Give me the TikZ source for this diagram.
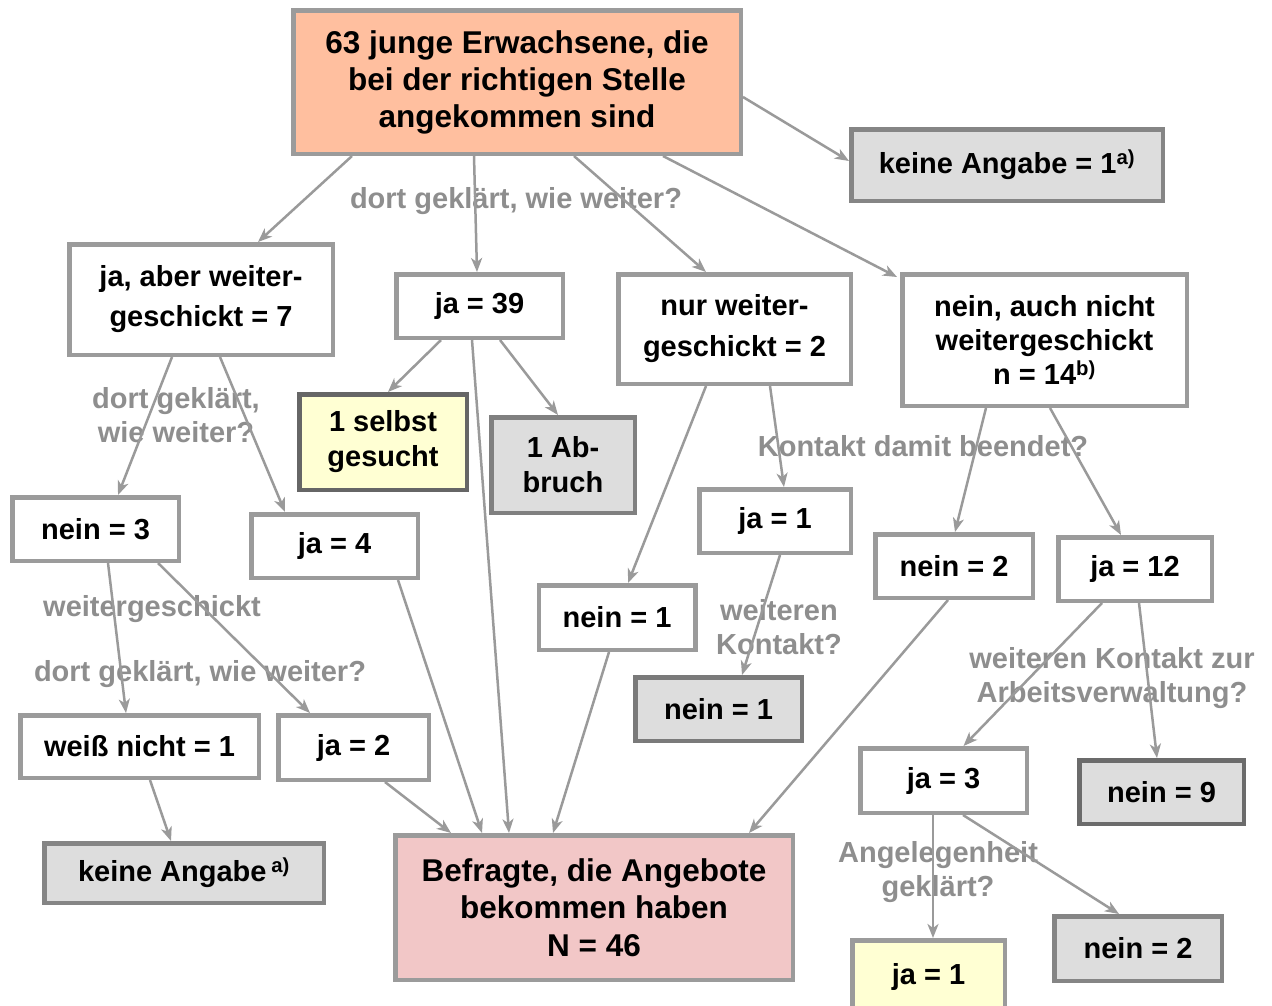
\documentclass[tikz,border=0pt]{standalone}
\usepackage{fontspec}
\setmainfont{Liberation Sans}
\usetikzlibrary{arrows.meta,calc}
\definecolor{linegray}{HTML}{9A9A9A}
\definecolor{bordgray}{HTML}{9B9B9B}
\definecolor{darkbord}{HTML}{858585}
\definecolor{labgray}{HTML}{8E8E8E}
\definecolor{orangefill}{HTML}{FFBF9F}
\definecolor{pinkfill}{HTML}{F2C7C7}
\definecolor{yellowfill}{HTML}{FFFFD3}
\definecolor{grayfill}{HTML}{DDDDDD}
\tikzset{
  box/.style={draw=bordgray, line width=4.5pt, inner sep=0pt, align=center, fill=white,
    font=\bfseries\fontsize{29}{35}\selectfont},
  graybox/.style={box, fill=grayfill, draw=darkbord},
  lab/.style={text=labgray, align=center, inner sep=0pt, font=\bfseries\fontsize{29}{34}\selectfont},
  conn/.style={draw=linegray, line width=2.5pt, -{Stealth[length=14pt,width=11pt,inset=4pt]}},
  bw/.style 2 args={minimum width=#1pt, minimum height=#2pt}
}
\begin{document}
\begin{tikzpicture}[x=1pt,y=-1pt]
\useasboundingbox[fill=white] (0,0) rectangle (1272,1005);
% labels
\node[lab] (l1) at (516,201) {dort geklärt, wie weiter?};
\node[lab] (l2) at (176,415) {dort geklärt,\\wie weiter?};
\node[lab] (l3) at (923,446) {Kontakt damit beendet?};
\node[lab] (l4) at (152,609) {weitergeschickt};
\node[lab] (l5) at (200,674) {dort geklärt, wie weiter?};
\node[lab] (l6) at (779,627) {weiteren\\Kontakt?};
\node[lab] (l7) at (1112,678) {weiteren Kontakt zur\\Arbeitsverwaltung?};
\node[lab] (l8) at (938,872) {Angelegenheit\\geklärt?};
% boxes
\node[box, fill=orangefill, bw={447.5}{143.5}, font=\bfseries\fontsize{31.5}{37}\selectfont] (top) at (517,82) {63 junge Erwachsene, die\\bei der richtigen Stelle\\angekommen sind};
\node[graybox, bw={311.5}{71.5}] (keineA1) at (1007,165) {keine Angabe = 1\textsuperscript{a)}};
\node[box, bw={263.5}{110.5}, font=\bfseries\fontsize{29}{40}\selectfont] (jaaber) at (201,299.5) {ja, aber weiter-\\geschickt = 7};
\node[box, bw={166.5}{63.5}] (ja39) at (479.5,306) {ja = 39};
\node[box, bw={232.5}{109.5}, font=\bfseries\fontsize{29}{41}\selectfont] (nur) at (734.5,329) {nur weiter-\\geschickt = 2};
\node[box, bw={284.5}{131.5}, font=\bfseries\fontsize{29}{34}\selectfont] (nein14) at (1044.5,340) {nein, auch nicht\\weitergeschickt\\n = 14\textsuperscript{b)}};
\node[box, fill=yellowfill, draw=black!60, bw={167.5}{95.5}] (selbst) at (383,442) {1 selbst\\gesucht};
\node[graybox, draw=black!50, bw={143.5}{95.5}] (Abbruch) at (563,465) {1 Ab-\\bruch};
\node[box, bw={166.5}{63.5}] (nein3) at (95.5,529) {nein = 3};
\node[box, bw={166.5}{63.5}] (ja4) at (334.5,546) {ja = 4};
\node[box, bw={151.5}{63.5}] (ja1) at (775,521) {ja = 1};
\node[box, bw={157.5}{63.5}] (nein2) at (954,566) {nein = 2};
\node[box, bw={153.5}{63.5}] (ja12) at (1135,569) {ja = 12};
\node[box, bw={156.5}{64.5}] (neinmid1) at (617,617.5) {nein = 1};
\node[graybox, draw=black!52, bw={166.5}{63.5}] (nein1gray) at (718.5,709) {nein = 1};
\node[box, bw={238.5}{62.5}] (weiss) at (139.5,746.5) {weiß nicht = 1};
\node[box, bw={150.5}{64.5}] (ja2) at (353.5,747.5) {ja = 2};
\node[box, bw={166.5}{64.5}] (ja3) at (943.5,780.5) {ja = 3};
\node[graybox, draw=black!58, bw={164.5}{63.5}] (nein9) at (1161.5,792) {nein = 9};
\node[graybox, bw={279.5}{59.5}] (keineA) at (184,873) {keine Angabe\,\textsuperscript{a)}};
\node[box, fill=pinkfill, bw={397.5}{144.5}, font=\bfseries\fontsize{31.5}{37.5}\selectfont] (Befragte) at (594,907.5) {Befragte, die Angebote\\bekommen haben\\N = 46};
\node[box, fill=yellowfill, bw={152.5}{72.5}] (ja1y) at (928.5,976.5) {ja = 1};
\node[graybox, bw={167.5}{64.5}] (nein2g) at (1138,948.5) {nein = 2};
% connectors
\draw[conn] ([xshift=-165pt]top.south) -- ([xshift=57pt]jaaber.north);
\draw[conn] ([xshift=-43pt]top.south) -- ([xshift=-2.5pt]ja39.north);
\draw[conn] ([xshift=57pt]top.south) -- ([xshift=-28.5pt]nur.north);
\draw[conn] ([xshift=146pt]top.south) -- ([xshift=-3pt,yshift=-5pt]nein14.north west);
\draw[conn] ([yshift=-15pt]top.east) -- ([yshift=4pt]keineA1.west);
\draw[conn] ([xshift=-29pt]jaaber.south) -- ([xshift=22.5pt]nein3.north);
\draw[conn] ([xshift=19pt]jaaber.south) -- ([xshift=-49.5pt]ja4.north);
\draw[conn] ([xshift=-38.5pt]ja39.south) -- ([xshift=5pt]selbst.north);
\draw[conn] ([xshift=20.5pt]ja39.south) -- ([xshift=-5pt]Abbruch.north);
\draw[conn] ([xshift=-7.5pt]ja39.south) -- ([xshift=-85pt]Befragte.north);
\draw[conn] ([xshift=-28.5pt]nur.south) -- ([xshift=11pt]neinmid1.north);
\draw[conn] ([xshift=35.5pt]nur.south) -- ([xshift=9pt]ja1.north);
\draw[conn] ([xshift=-58.5pt]nein14.south) -- ([xshift=1pt]nein2.north);
\draw[conn] ([xshift=5.5pt]nein14.south) -- ([xshift=-14pt]ja12.north);
\draw[conn] ([xshift=12.5pt]nein3.south) -- ([xshift=-13.5pt]weiss.north);
\draw[conn] ([xshift=62.5pt]nein3.south) -- ([xshift=-43.5pt]ja2.north);
\draw[conn] ([xshift=63.5pt]ja4.south) -- ([xshift=-112pt]Befragte.north);
\draw[conn] ([xshift=31.5pt]ja2.south) -- ([xshift=-143pt]Befragte.north);
\draw[conn] ([xshift=10.5pt]weiss.south) -- ([xshift=-13pt]keineA.north);
\draw[conn] ([xshift=-8pt]neinmid1.south) -- ([xshift=-41pt]Befragte.north);
\draw[conn] ([xshift=5pt]ja1.south) -- ([xshift=23.5pt]nein1gray.north);
\draw[conn] ([xshift=-6pt]nein2.south) -- ([xshift=155pt]Befragte.north);
\draw[conn] ([xshift=-33pt]ja12.south) -- ([xshift=20pt]ja3.north);
\draw[conn] ([xshift=4pt]ja12.south) -- ([xshift=-4.5pt]nein9.north);
\draw[conn] ([xshift=-10.5pt]ja3.south) -- ([xshift=4.5pt]ja1y.north);
\draw[conn] ([xshift=19.5pt]ja3.south) -- ([xshift=-19pt]nein2g.north);
\end{tikzpicture}
\end{document}
